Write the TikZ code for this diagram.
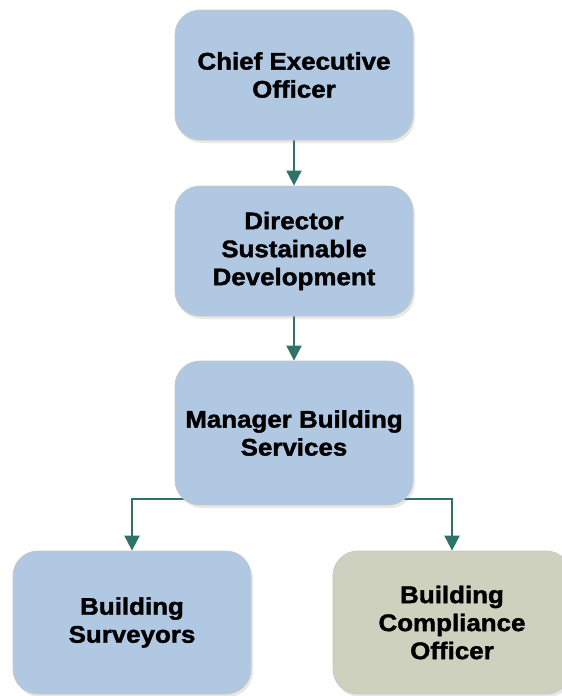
\documentclass[tikz,border=0pt]{standalone}
\usepackage{fontspec}
\setmainfont{Liberation Sans}[FakeStretch=1.08, BoldFeatures={FakeBold=1.6}]
\usetikzlibrary{arrows.meta,shadows,backgrounds}

\definecolor{boxblue}{HTML}{B1C8E3}
\definecolor{boxsage}{HTML}{CDD1BE}
\definecolor{linkteal}{HTML}{2F7268}

\tikzset{
  post/.style={draw=black!22, line width=0.8pt, fill=boxblue,
    rounded corners=25pt, minimum width=238pt, minimum height=130pt,
    align=center, font=\fontsize{24}{28}\selectfont\bfseries,
    drop shadow={opacity=0.18, shadow xshift=2pt, shadow yshift=-3pt}},
  link/.style={linkteal, line width=2pt, -{Triangle[width=15pt,length=15pt]}}
}

\begin{document}
\begin{tikzpicture}[x=1pt,y=-1pt]
  \useasboundingbox (0,0) rectangle (562,696);
  % chain of command
  \node[post] (ceo) at (294,75) {Chief Executive\\Officer};
  \node[post] (dir) at (294,251) {Director\\Sustainable\\Development};
  \node[post, minimum height=144pt] (mgr) at (294,433) {Manager Building\\Services};
  \node[post, minimum height=143pt] (surv) at (132,622.5) {Building\\Surveyors};
  \node[post, minimum height=143pt, fill=boxsage] (comp) at (452,622.5) {Building\\Compliance\\Officer};
  % connectors, kept under the boxes
  \begin{scope}[on background layer]
    \draw[link] (ceo) -- (dir);
    \draw[link] (dir) -- (mgr);
    \draw[link] ([xshift=10pt,yshift=6pt]mgr.south west) -| (surv.north);
    \draw[link] ([xshift=-10pt,yshift=6pt]mgr.south east) -| (comp.north);
  \end{scope}
\end{tikzpicture}
\end{document}
